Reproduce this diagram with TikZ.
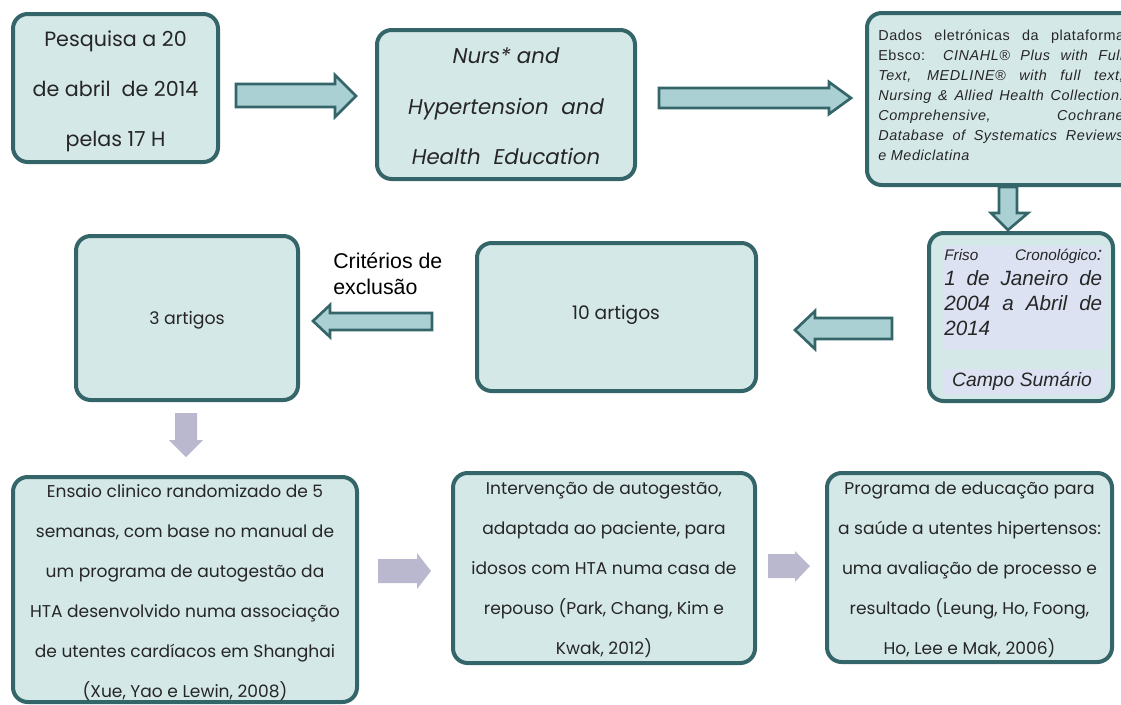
\documentclass[tikz,border=0pt]{standalone}
\usepackage{fontspec}
\setmainfont{Poppins}
\newfontfamily\arialfont{Liberation Sans}
\newfontfamily\arialsp[LetterSpace=4]{Liberation Sans}
\definecolor{boxfill}{RGB}{213,232,232}
\definecolor{boxline}{RGB}{52,101,104}
\definecolor{arrfill}{RGB}{170,208,211}
\definecolor{grayarr}{RGB}{185,184,207}
\definecolor{hilite}{RGB}{220,226,242}

\begin{document}
\begin{tikzpicture}[x=0.75pt,y=0.75pt,yscale=-1,xscale=1,
  roundbox/.style={draw=boxline,fill=boxfill,line width=3pt,rounded corners=11pt},
  tealarrow/.style={draw=boxline,fill=arrfill,line width=2pt,line join=miter},
  grayarrow/.style={fill=grayarr},
  boxtext/.style={align=center,inner sep=0pt,text=black!85}]
\clip (0,0) rectangle (1121,704);

%Rounded Rect: search date
\draw[roundbox] (13,14) rectangle (218,162);
%Rounded Rect: search terms
\draw[roundbox] (377,30) rectangle (635,179);
%Rounded Rect: databases
\draw[roundbox] (867,13) rectangle (1140,185);
%Rounded Rect: time frame
\draw[roundbox] (929,233) rectangle (1113,401);
\fill[hilite] (944,246) rectangle (1105,349);
\fill[hilite] (944,369) rectangle (1105,395);
%Rounded Rect: 10 articles
\draw[roundbox] (477,243) rectangle (756,391);
%Rounded Rect: 3 articles
\draw[roundbox] (76,236) rectangle (298,400);
%Rounded Rect: studies
\draw[roundbox] (13,477) rectangle (357,702);
\draw[roundbox] (453,473) rectangle (755,663);
\draw[roundbox] (827,473) rectangle (1112,662);

%Right Arrow
\draw[tealarrow] (236,84) -- (335,84) -- (335,75) -- (356,96) -- (335,117) -- (335,107) -- (236,107) -- cycle;
%Right Arrow
\draw[tealarrow] (659,88) -- (829,88) -- (829,82) -- (851,98) -- (829,114) -- (829,108) -- (659,108) -- cycle;
%Down Arrow
\draw[tealarrow] (999,187) -- (1017,187) -- (1017,213) -- (1028,213) -- (1008,230) -- (991,213) -- (999,213) -- cycle;
%Left Arrow
\draw[tealarrow] (892,318) -- (815,318) -- (815,311) -- (795,330) -- (815,349) -- (815,339) -- (892,339) -- cycle;
%Left Arrow
\draw[tealarrow] (432,313) -- (330,313) -- (330,305) -- (313,321) -- (330,337) -- (330,330) -- (432,330) -- cycle;
%Down Arrow
\fill[grayarrow] (175,413) -- (197,413) -- (197,440) -- (203,440) -- (186,457) -- (169,440) -- (175,440) -- cycle;
%Right Arrow
\fill[grayarrow] (378,559) -- (417,559) -- (417,553) -- (431,571) -- (417,589) -- (417,583) -- (378,583) -- cycle;
%Right Arrow
\fill[grayarrow] (768,554) -- (795,554) -- (795,551) -- (810,566) -- (795,582) -- (795,578) -- (768,578) -- cycle;

% Text Node
\node[boxtext,font=\fontsize{15.5}{37.5}\selectfont] (search) at (115.5,91) {Pesquisa a 20\\de abril\ \ de 2014\\pelas 17 H};
% Text Node
\node[boxtext,font=\fontsize{16}{38}\selectfont\itshape] (terms) at (506,106.5) {Nurs* and\\Hypertension\ \ and\\Health\ \ Education};
% Text Node
\node[anchor=north west,inner sep=0pt,text=black!85] (source) at (878,30) {\parbox{184.5pt}{\arialsp\fontsize{10.8}{15}\selectfont
Dados eletrónicas da plataforma\linebreak
Ebsco: \textit{CINAHL® Plus with Full}\linebreak
\textit{Text, MEDLINE® with full text,}\linebreak
\textit{Nursing \& Allied Health Collection:}\linebreak
\textit{Comprehensive, Cochrane}\linebreak
\textit{Database of Systematics Reviews}\linebreak
\textit{e Mediclatina}}};
% Text Node
\node[anchor=north west,inner sep=0pt,text=black!85] (timeframe) at (944,249) {\parbox{118.5pt}{\arialfont\itshape
\fontsize{11.5}{14}\selectfont\hbox to \linewidth{Friso\hfill Cronológico{\Large:}}\par
\fontsize{15.5}{18.75}\selectfont 1 de Janeiro de\linebreak 2004 a Abril de\linebreak 2014\par}};
% Text Node
\node[boxtext,font=\arialfont\itshape\fontsize{14.5}{16}\selectfont] (summary) at (1022,381) {Campo Sumário};
% Text Node
\node[boxtext,font=\fontsize{14}{16}\selectfont] (ten) at (616,315) {10 artigos};
% Text Node
\node[boxtext,font=\fontsize{13}{16}\selectfont] (three) at (187,320) {3 artigos};
% Text Node
\node[anchor=north west,align=left,inner sep=0pt,font=\arialfont\fontsize{16}{19}\selectfont] (criteria) at (333,253) {Critérios de\\exclusão};
% Text Node
\node[boxtext,font=\fontsize{12.8}{30}\selectfont] (trial) at (185,593) {Ensaio clinico randomizado de 5\\semanas, com base no manual de\\um programa de autogestão da\\HTA desenvolvido numa associação\\de utentes cardíacos em Shanghai\\(Xue, Yao e Lewin, 2008)};
% Text Node
\node[boxtext,font=\fontsize{12.8}{30}\selectfont] (selfcare) at (604,570) {Intervenção de autogestão,\\adaptada ao paciente, para\\idosos com HTA numa casa de\\repouso (Park, Chang, Kim e\\Kwak, 2012)};
% Text Node
\node[boxtext,font=\fontsize{12.8}{30}\selectfont] (education) at (969.5,570) {Programa de educação para\\a saúde a utentes hipertensos:\\uma avaliação de processo e\\resultado (Leung, Ho, Foong,\\Ho, Lee e Mak, 2006)};

\end{tikzpicture}
\end{document}
